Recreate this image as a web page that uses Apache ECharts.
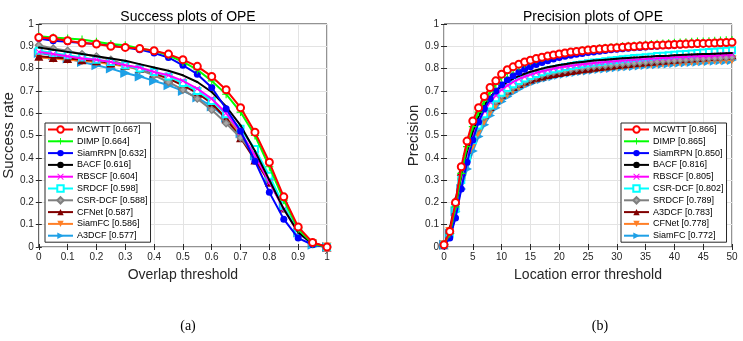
<!DOCTYPE html>
<html>
<head>
<meta charset="utf-8">
<script src="https://cdn.jsdelivr.net/npm/echarts@6/dist/echarts.min.js"></script>
<style>
    html, body { margin: 0; padding: 0; background: #fff; }
    #chart { width: 743px; height: 341px; }
</style>
</head>
<body>
<div id="chart"></div>
<script>
// Success plot data (overlap threshold -> success rate)
var successThresholds = [0, 0.05, 0.1, 0.15, 0.2, 0.25, 0.3, 0.35, 0.4, 0.45, 0.5, 0.55, 0.6, 0.65, 0.7, 0.75, 0.8, 0.85, 0.9, 0.95, 1];
var successNames = ['MCWTT', 'DIMP', 'SiamRPN', 'BACF', 'RBSCF', 'SRDCF', 'CSR-DCF', 'CFNet', 'SiamFC', 'A3DCF'];
var successScores = ['0.667', '0.664', '0.632', '0.616', '0.604', '0.598', '0.588', '0.587', '0.586', '0.577'];
var succMCWTT  = [0.94, 0.935, 0.925, 0.915, 0.91, 0.9, 0.895, 0.89, 0.88, 0.865, 0.84, 0.81, 0.765, 0.705, 0.625, 0.515, 0.38, 0.225, 0.09, 0.02, 0];
var succDIMP   = [0.945, 0.94, 0.935, 0.93, 0.92, 0.91, 0.905, 0.89, 0.88, 0.86, 0.83, 0.795, 0.745, 0.685, 0.605, 0.5, 0.36, 0.21, 0.08, 0.015, 0];
var succSiamRPN = [0.935, 0.925, 0.92, 0.915, 0.91, 0.905, 0.895, 0.885, 0.87, 0.85, 0.815, 0.775, 0.715, 0.62, 0.52, 0.385, 0.245, 0.125, 0.04, 0.01, 0];
var succBACF   = [0.895, 0.885, 0.875, 0.865, 0.855, 0.845, 0.835, 0.82, 0.805, 0.79, 0.77, 0.74, 0.695, 0.63, 0.545, 0.43, 0.3, 0.17, 0.065, 0.015, 0];
var succRBSCF  = [0.875, 0.865, 0.855, 0.845, 0.84, 0.83, 0.815, 0.805, 0.785, 0.77, 0.745, 0.71, 0.665, 0.6, 0.515, 0.41, 0.29, 0.17, 0.065, 0.015, 0];
var succSRDCF  = [0.88, 0.87, 0.86, 0.85, 0.84, 0.83, 0.815, 0.8, 0.785, 0.765, 0.735, 0.7, 0.655, 0.595, 0.53, 0.44, 0.32, 0.185, 0.07, 0.015, 0];
var succCSRDCF = [0.905, 0.89, 0.88, 0.865, 0.855, 0.84, 0.815, 0.795, 0.77, 0.74, 0.705, 0.665, 0.615, 0.555, 0.49, 0.41, 0.3, 0.175, 0.065, 0.015, 0];
var succCFNet  = [0.855, 0.85, 0.845, 0.84, 0.835, 0.825, 0.815, 0.8, 0.78, 0.755, 0.725, 0.69, 0.645, 0.575, 0.49, 0.39, 0.29, 0.175, 0.075, 0.02, 0];
var succSiamFC = [0.85, 0.845, 0.84, 0.835, 0.83, 0.82, 0.81, 0.795, 0.775, 0.755, 0.73, 0.695, 0.645, 0.58, 0.5, 0.41, 0.3, 0.18, 0.07, 0.015, 0];
var succA3DCF  = [0.87, 0.86, 0.845, 0.83, 0.815, 0.8, 0.78, 0.765, 0.745, 0.725, 0.7, 0.67, 0.63, 0.58, 0.51, 0.41, 0.3, 0.18, 0.065, 0.01, 0];

// Precision plot data (location error threshold -> precision)
var precisionThresholds = [0, 1, 2, 3, 4, 5, 6, 7, 8, 9, 10, 11, 12, 13, 14, 15, 16, 17, 18, 19, 20, 21, 22, 23, 24, 25, 26, 27, 28, 29, 30, 31, 32, 33, 34, 35, 36, 37, 38, 39, 40, 41, 42, 43, 44, 45, 46, 47, 48, 49, 50];
var precisionNames = ['MCWTT', 'DIMP', 'SiamRPN', 'BACF', 'RBSCF', 'CSR-DCF', 'SRDCF', 'A3DCF', 'CFNet', 'SiamFC'];
var precisionScores = ['0.866', '0.865', '0.850', '0.816', '0.805', '0.802', '0.789', '0.783', '0.778', '0.772'];
var precMCWTT = [0.01, 0.07, 0.2, 0.36, 0.475, 0.565, 0.625, 0.675, 0.715, 0.745, 0.775, 0.795, 0.808, 0.82, 0.83, 0.838, 0.845, 0.851, 0.856, 0.861, 0.866, 0.87, 0.874, 0.877, 0.88, 0.883, 0.886, 0.888, 0.89, 0.892, 0.894, 0.896, 0.898, 0.899, 0.901, 0.902, 0.904, 0.905, 0.906, 0.907, 0.908, 0.909, 0.91, 0.911, 0.912, 0.913, 0.914, 0.915, 0.916, 0.917, 0.918];
var precDIMP = [0.01, 0.06, 0.18, 0.33, 0.45, 0.54, 0.605, 0.655, 0.695, 0.73, 0.76, 0.78, 0.797, 0.81, 0.822, 0.832, 0.84, 0.847, 0.854, 0.86, 0.865, 0.87, 0.874, 0.878, 0.882, 0.885, 0.888, 0.891, 0.893, 0.896, 0.898, 0.9, 0.902, 0.904, 0.906, 0.908, 0.91, 0.911, 0.913, 0.914, 0.916, 0.917, 0.918, 0.92, 0.921, 0.922, 0.923, 0.925, 0.926, 0.927, 0.928];
var precSiamRPN = [0.005, 0.04, 0.13, 0.26, 0.38, 0.48, 0.56, 0.62, 0.665, 0.7, 0.728, 0.75, 0.768, 0.784, 0.797, 0.808, 0.818, 0.827, 0.835, 0.843, 0.85, 0.855, 0.86, 0.864, 0.868, 0.872, 0.875, 0.878, 0.881, 0.884, 0.887, 0.889, 0.891, 0.893, 0.895, 0.897, 0.899, 0.9, 0.902, 0.903, 0.905, 0.906, 0.908, 0.909, 0.91, 0.911, 0.913, 0.914, 0.915, 0.916, 0.917];
var precBACF = [0.01, 0.06, 0.18, 0.32, 0.43, 0.52, 0.585, 0.635, 0.672, 0.7, 0.722, 0.74, 0.755, 0.767, 0.777, 0.786, 0.793, 0.8, 0.806, 0.811, 0.816, 0.82, 0.824, 0.827, 0.83, 0.833, 0.836, 0.838, 0.84, 0.842, 0.844, 0.846, 0.848, 0.85, 0.851, 0.853, 0.854, 0.856, 0.857, 0.858, 0.86, 0.861, 0.862, 0.863, 0.864, 0.865, 0.866, 0.867, 0.868, 0.869, 0.87];
var precRBSCF = [0.01, 0.06, 0.18, 0.31, 0.42, 0.5, 0.56, 0.61, 0.65, 0.68, 0.705, 0.724, 0.74, 0.753, 0.764, 0.773, 0.781, 0.788, 0.794, 0.8, 0.805, 0.809, 0.813, 0.816, 0.819, 0.822, 0.825, 0.827, 0.83, 0.832, 0.834, 0.836, 0.838, 0.84, 0.842, 0.843, 0.845, 0.846, 0.848, 0.849, 0.851, 0.852, 0.853, 0.855, 0.856, 0.857, 0.858, 0.859, 0.861, 0.862, 0.863];
var precCSRDCF = [0.01, 0.06, 0.17, 0.3, 0.4, 0.48, 0.545, 0.595, 0.635, 0.667, 0.692, 0.713, 0.73, 0.744, 0.756, 0.767, 0.776, 0.784, 0.791, 0.797, 0.802, 0.807, 0.812, 0.816, 0.82, 0.824, 0.827, 0.83, 0.833, 0.836, 0.839, 0.842, 0.844, 0.847, 0.849, 0.851, 0.853, 0.856, 0.858, 0.86, 0.862, 0.864, 0.866, 0.868, 0.87, 0.872, 0.874, 0.876, 0.878, 0.88, 0.882];
var precSRDCF = [0.01, 0.06, 0.17, 0.3, 0.4, 0.475, 0.535, 0.583, 0.622, 0.653, 0.678, 0.699, 0.716, 0.731, 0.744, 0.755, 0.764, 0.772, 0.779, 0.784, 0.789, 0.793, 0.797, 0.801, 0.804, 0.807, 0.81, 0.813, 0.815, 0.817, 0.82, 0.822, 0.824, 0.826, 0.828, 0.83, 0.832, 0.833, 0.835, 0.837, 0.838, 0.84, 0.841, 0.843, 0.844, 0.845, 0.847, 0.848, 0.849, 0.85, 0.852];
var precA3DCF = [0.01, 0.08, 0.21, 0.34, 0.43, 0.5, 0.55, 0.595, 0.63, 0.66, 0.685, 0.704, 0.72, 0.733, 0.744, 0.753, 0.761, 0.767, 0.773, 0.778, 0.783, 0.787, 0.791, 0.795, 0.799, 0.802, 0.806, 0.809, 0.812, 0.815, 0.818, 0.821, 0.823, 0.826, 0.828, 0.831, 0.833, 0.835, 0.838, 0.84, 0.842, 0.844, 0.846, 0.848, 0.85, 0.852, 0.854, 0.856, 0.858, 0.86, 0.862];
var precCFNet = [0.01, 0.07, 0.18, 0.29, 0.38, 0.455, 0.515, 0.565, 0.605, 0.638, 0.664, 0.686, 0.704, 0.719, 0.732, 0.743, 0.753, 0.761, 0.767, 0.773, 0.778, 0.782, 0.786, 0.79, 0.793, 0.796, 0.799, 0.802, 0.804, 0.807, 0.809, 0.811, 0.813, 0.815, 0.817, 0.819, 0.821, 0.822, 0.824, 0.826, 0.827, 0.829, 0.83, 0.832, 0.833, 0.834, 0.836, 0.837, 0.838, 0.839, 0.84];
var precSiamFC = [0.01, 0.06, 0.16, 0.26, 0.35, 0.43, 0.495, 0.548, 0.59, 0.625, 0.652, 0.675, 0.694, 0.71, 0.724, 0.735, 0.745, 0.753, 0.76, 0.766, 0.772, 0.777, 0.781, 0.785, 0.789, 0.792, 0.795, 0.798, 0.801, 0.803, 0.806, 0.808, 0.81, 0.812, 0.814, 0.816, 0.818, 0.82, 0.822, 0.823, 0.825, 0.827, 0.828, 0.83, 0.831, 0.833, 0.834, 0.835, 0.837, 0.838, 0.839];

var successValues = [succMCWTT, succDIMP, succSiamRPN, succBACF, succRBSCF, succSRDCF, succCSRDCF, succCFNet, succSiamFC, succA3DCF];
var precisionValues = [precMCWTT, precDIMP, precSiamRPN, precBACF, precRBSCF, precCSRDCF, precSRDCF, precA3DCF, precCFNet, precSiamFC];

// line style by rank (same in both plots)
var rankColors = ['#ff0000', '#00ff00', '#0000ff', '#000000', '#ff00ff', '#00ffff', '#808080', '#800000', '#ff7f27', '#1ea0e6'];
var plusPath = 'path://M4.3,0H5.7V4.3H10V5.7H5.7V10H4.3V5.7H0V4.3H4.3Z';
var crossPath = 'path://M1,0L5,4L9,0L10,1L6,5L10,9L9,10L5,6L1,10L0,9L4,5L0,1Z';
var rankSymbols = ['emptyCircle', plusPath, 'circle', 'circle', crossPath, 'emptyRect', 'diamond', 'triangle', 'triangle', 'triangle'];
var rankSymbolSize = [7, 8, 7, 2, 6, 6, 7, 9, 9, 10];
var rankRotate = [0, 0, 0, 0, 0, 0, 0, 0, 180, -90];

var chart = echarts.init(document.getElementById('chart'));
var fontSans = '"Liberation Sans", Arial, sans-serif';

function buildSeries(names, scores, values, xs, axisIndex) {
    var out = [];
    for (var i = 0; i < names.length; i++) {
        var pts = [];
        for (var j = 0; j < xs.length; j++) {
            pts.push([xs[j], values[i][j]]);
        }
        out.push({
            type: 'line',
            name: names[i] + ' [' + scores[i] + ']',
            xAxisIndex: axisIndex,
            yAxisIndex: axisIndex,
            data: pts,
            symbol: rankSymbols[i],
            symbolSize: rankSymbolSize[i],
            symbolRotate: rankRotate[i],
            showAllSymbol: true,
            animation: false,
            lineStyle: { color: rankColors[i], width: 2 },
            itemStyle: {
                color: i === 6 ? '#a6a6a6' : rankColors[i],
                borderColor: rankColors[i],
                borderWidth: (i === 0 || i === 5 || i === 6) ? 1.3 : 0
            },
            z: 20 - i
        });
    }
    return out;
}

function legendNames(names, scores) {
    var out = [];
    for (var i = 0; i < names.length; i++) out.push(names[i] + ' [' + scores[i] + ']');
    return out;
}

function valueAxis(gridIndex, min, max, interval, opts) {
    var a = {
        type: 'value',
        gridIndex: gridIndex,
        min: min,
        max: max,
        interval: interval,
        axisLine: { show: false },
        axisTick: { show: true, inside: true, length: 3, lineStyle: { color: '#262626' } },
        axisLabel: { show: true, color: '#262626', fontSize: 10, fontFamily: fontSans, margin: 5 },
        splitLine: { show: true, lineStyle: { color: '#e3e3e3', width: 1 } }
    };
    for (var k in opts) a[k] = opts[k];
    return a;
}

function legendBox(names, scores, left) {
    return {
        data: legendNames(names, scores),
        orient: 'vertical', left: left, top: 123,
        itemWidth: 25, itemHeight: 8, itemGap: 2.8,
        padding: [2, 3, 2, 2],
        borderColor: '#262626', borderWidth: 1, backgroundColor: '#fff',
        textStyle: { fontSize: 9, lineHeight: 8, color: '#000', fontFamily: fontSans, padding: [0, 0, 0, -1] },
        selectedMode: false
    };
}

var series = buildSeries(successNames, successScores, successValues, successThresholds, 0)
    .concat(buildSeries(precisionNames, precisionScores, precisionValues, precisionThresholds, 1));

var nameStyle = { fontSize: 14, color: '#262626', fontFamily: fontSans };
var yNameStyle = { fontSize: 15, color: '#262626', fontFamily: fontSans };

chart.setOption({
    backgroundColor: '#ffffff',
    animation: false,
    title: [
        { text: 'Success plots of OPE', left: 183, top: 5, textAlign: 'center', textStyle: { fontSize: 14, fontWeight: 'normal', color: '#000', fontFamily: fontSans } },
        { text: 'Precision plots of OPE', left: 588, top: 5, textAlign: 'center', textStyle: { fontSize: 14, fontWeight: 'normal', color: '#000', fontFamily: fontSans } },
        { text: '(a)', left: 183, top: 314, textAlign: 'center', textStyle: { fontSize: 14, fontWeight: 'normal', color: '#000', fontFamily: '"Liberation Serif", serif' } },
        { text: '(b)', left: 595, top: 314, textAlign: 'center', textStyle: { fontSize: 14, fontWeight: 'normal', color: '#000', fontFamily: '"Liberation Serif", serif' } }
    ],
    grid: [
        { left: 37, top: 24, width: 290, height: 223, show: true, borderColor: '#262626', borderWidth: 1, backgroundColor: '#fff' },
        { left: 444, top: 24, width: 288, height: 223, show: true, borderColor: '#262626', borderWidth: 1, backgroundColor: '#fff' }
    ],
    xAxis: [
        valueAxis(0, 0, 1, 0.1, { name: 'Overlap threshold', nameLocation: 'middle', nameGap: 21, nameTextStyle: nameStyle }),
        valueAxis(1, 0, 50, 5, { name: 'Location error threshold', nameLocation: 'middle', nameGap: 21, nameTextStyle: nameStyle }),
        valueAxis(0, 0, 1, 0.1, { position: 'top', axisLabel: { show: false }, splitLine: { show: false } }),
        valueAxis(1, 0, 50, 5, { position: 'top', axisLabel: { show: false }, splitLine: { show: false } })
    ],
    yAxis: [
        valueAxis(0, 0, 1, 0.1, { name: 'Success rate', nameLocation: 'middle', nameGap: 19, nameTextStyle: yNameStyle }),
        valueAxis(1, 0, 1, 0.1, { name: 'Precision', nameLocation: 'middle', nameGap: 19, nameTextStyle: yNameStyle }),
        valueAxis(0, 0, 1, 0.1, { position: 'right', axisLabel: { show: false }, splitLine: { show: false } }),
        valueAxis(1, 0, 1, 0.1, { position: 'right', axisLabel: { show: false }, splitLine: { show: false } })
    ],
    legend: [
        legendBox(successNames, successScores, 45),
        legendBox(precisionNames, precisionScores, 621)
    ],
    series: series
});
</script>
</body>
</html>
